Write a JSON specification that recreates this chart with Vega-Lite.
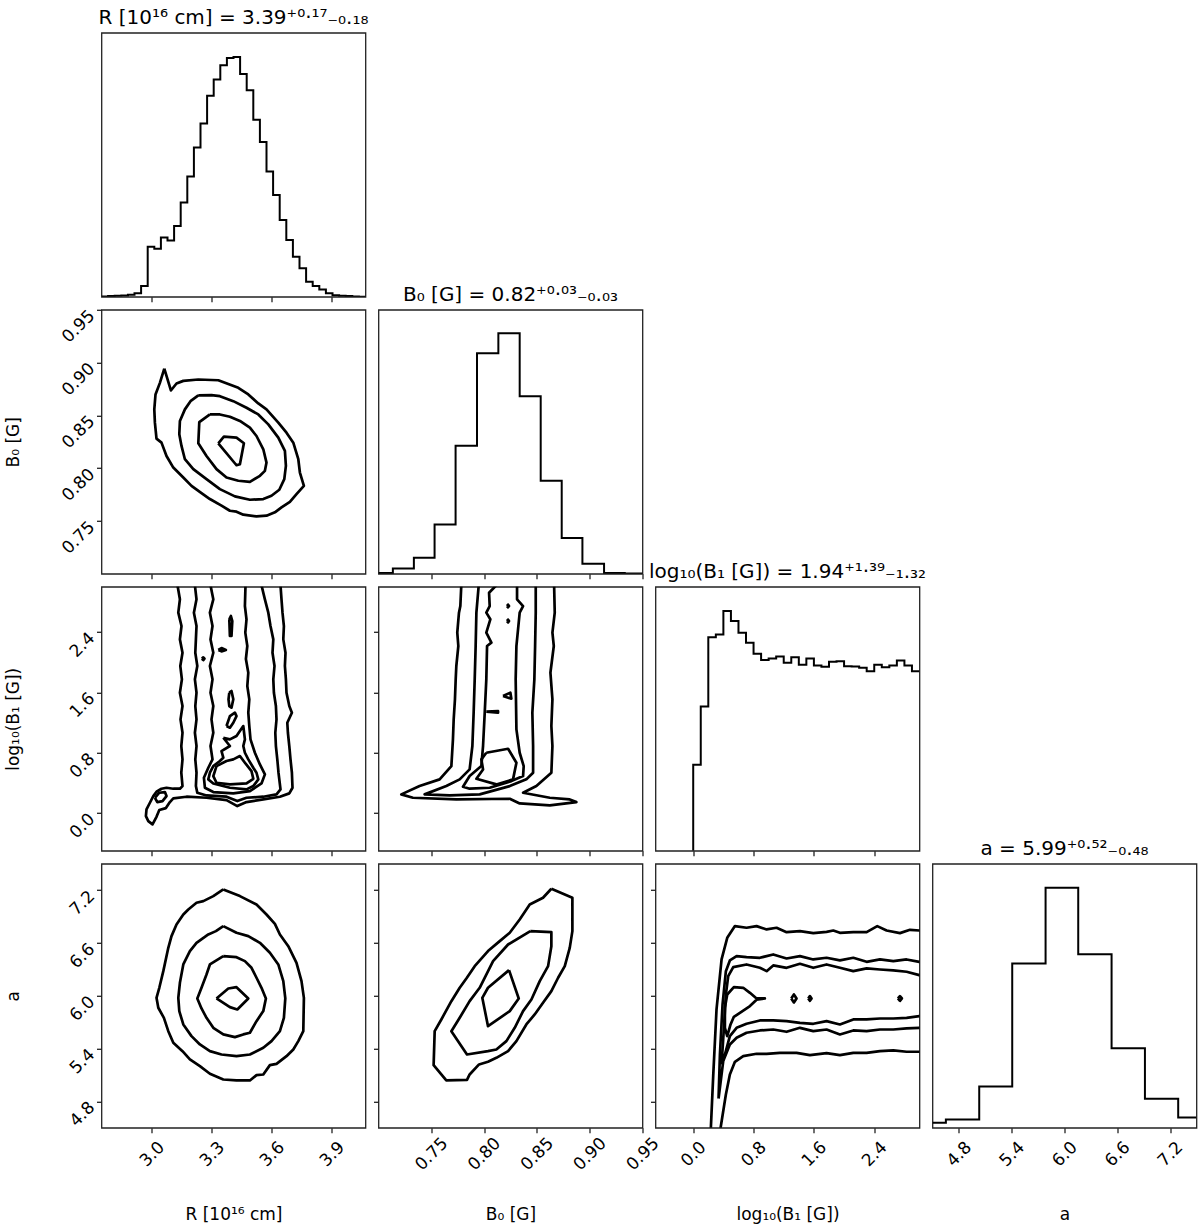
{
"$schema": "https://vega.github.io/schema/vega-lite/v6.json",
"padding": {"left": 3.5, "top": 6.8, "right": 5, "bottom": 5},
"columns": 4,
"spacing": 13,
"bounds": "flush",
"config": {
 "font": "DejaVu Sans",
 "view": {"stroke": "#222", "strokeWidth": 1.3},
 "axis": {"grid": false, "domain": false, "ticks": true, "tickColor": "#222", "tickWidth": 1.3, "tickSize": 5, "labelFont": "DejaVu Sans", "labelFontSize": 17, "labelColor": "#000", "titleFont": "DejaVu Sans", "titleFontSize": 17, "titleFontWeight": "normal", "titleColor": "#000", "labelFlush": false, "labelOverlap": false},
 "title": {"font": "DejaVu Sans", "fontSize": 20, "fontWeight": "normal", "color": "#000", "offset": 4.5, "baseline": "alphabetic", "frame": "group", "anchor": "middle"}
},
"datasets": {
 "histR": [{"x":2.748,"h":0.001},{"x":2.781,"h":0.003},{"x":2.814,"h":0.004},{"x":2.847,"h":0.005},{"x":2.880,"h":0.008},{"x":2.913,"h":0.013},{"x":2.946,"h":0.041},{"x":2.979,"h":0.190},{"x":3.012,"h":0.182},{"x":3.045,"h":0.225},{"x":3.078,"h":0.213},{"x":3.111,"h":0.268},{"x":3.144,"h":0.357},{"x":3.177,"h":0.456},{"x":3.210,"h":0.566},{"x":3.243,"h":0.656},{"x":3.276,"h":0.762},{"x":3.309,"h":0.823},{"x":3.342,"h":0.877},{"x":3.375,"h":0.905},{"x":3.408,"h":0.908},{"x":3.441,"h":0.844},{"x":3.474,"h":0.782},{"x":3.507,"h":0.671},{"x":3.540,"h":0.586},{"x":3.573,"h":0.475},{"x":3.606,"h":0.386},{"x":3.639,"h":0.291},{"x":3.672,"h":0.215},{"x":3.705,"h":0.152},{"x":3.738,"h":0.108},{"x":3.771,"h":0.057},{"x":3.804,"h":0.041},{"x":3.837,"h":0.028},{"x":3.870,"h":0.013},{"x":3.903,"h":0.006},{"x":3.936,"h":0.004},{"x":3.969,"h":0.003},{"x":4.002,"h":0.001},{"x":4.035,"h":0.0},{"x":4.068,"h":0.0}],
 "histB0": [{"x":0.70,"h":0.003},{"x":0.7136,"h":0.020},{"x":0.7335,"h":0.061},{"x":0.7531,"h":0.187},{"x":0.7730,"h":0.485},{"x":0.7933,"h":0.835},{"x":0.8135,"h":0.911},{"x":0.8337,"h":0.673},{"x":0.8536,"h":0.352},{"x":0.8735,"h":0.136},{"x":0.8931,"h":0.038},{"x":0.9136,"h":0.003},{"x":0.9332,"h":0.001},{"x":0.95,"h":0.001}],
 "histL": [{"x":0.0,"h":0.0},{"x":0.0,"h":0.326},{"x":0.1,"h":0.547},{"x":0.2,"h":0.809},{"x":0.3,"h":0.819},{"x":0.4,"h":0.908},{"x":0.5,"h":0.870},{"x":0.6,"h":0.826},{"x":0.7,"h":0.788},{"x":0.8,"h":0.746},{"x":0.9,"h":0.723},{"x":1.0,"h":0.728},{"x":1.1,"h":0.736},{"x":1.2,"h":0.712},{"x":1.3,"h":0.733},{"x":1.4,"h":0.705},{"x":1.5,"h":0.728},{"x":1.6,"h":0.702},{"x":1.7,"h":0.697},{"x":1.8,"h":0.716},{"x":1.9,"h":0.718},{"x":2.0,"h":0.699},{"x":2.1,"h":0.698},{"x":2.2,"h":0.693},{"x":2.3,"h":0.680},{"x":2.4,"h":0.705},{"x":2.5,"h":0.695},{"x":2.6,"h":0.702},{"x":2.7,"h":0.721},{"x":2.8,"h":0.702},{"x":2.9,"h":0.680},{"x":3.0,"h":0.680}],
 "histA": [{"x":4.5,"h":0.019},{"x":4.652,"h":0.031},{"x":5.031,"h":0.156},{"x":5.406,"h":0.622},{"x":5.785,"h":0.909},{"x":6.156,"h":0.657},{"x":6.535,"h":0.301},{"x":6.914,"h":0.110},{"x":7.292,"h":0.039},{"x":7.5,"h":0.039}],
 "rb": [
  {"c":"A","x":3.062,"y":0.8943},{"c":"A","x":3.095,"y":0.8736},{"c":"A","x":3.123,"y":0.8802},{"c":"A","x":3.157,"y":0.8827},{"c":"A","x":3.232,"y":0.884},{"c":"A","x":3.332,"y":0.8833},{"c":"A","x":3.432,"y":0.8761},{"c":"A","x":3.482,"y":0.8698},{"c":"A","x":3.532,"y":0.8613},{"c":"A","x":3.573,"y":0.8557},{"c":"A","x":3.632,"y":0.8431},{"c":"A","x":3.673,"y":0.8336},{"c":"A","x":3.707,"y":0.8242},{"c":"A","x":3.732,"y":0.8085},{"c":"A","x":3.74,"y":0.7959},{"c":"A","x":3.76,"y":0.7833},{"c":"A","x":3.723,"y":0.7755},{"c":"A","x":3.69,"y":0.7682},{"c":"A","x":3.648,"y":0.7629},{"c":"A","x":3.615,"y":0.7582},{"c":"A","x":3.573,"y":0.755},{"c":"A","x":3.523,"y":0.7544},{"c":"A","x":3.457,"y":0.756},{"c":"A","x":3.423,"y":0.7588},{"c":"A","x":3.39,"y":0.7597},{"c":"A","x":3.348,"y":0.7645},{"c":"A","x":3.29,"y":0.7708},{"c":"A","x":3.248,"y":0.7764},{"c":"A","x":3.198,"y":0.7833},{"c":"A","x":3.157,"y":0.7912},{"c":"A","x":3.107,"y":0.8006},{"c":"A","x":3.073,"y":0.8116},{"c":"A","x":3.048,"y":0.8242},{"c":"A","x":3.023,"y":0.828},{"c":"A","x":3.015,"y":0.8431},{"c":"A","x":3.012,"y":0.8557},{"c":"A","x":3.018,"y":0.8698},{"c":"A","x":3.04,"y":0.8808},{"c":"A","x":3.062,"y":0.8943},
  {"c":"B","x":3.232,"y":0.8689},{"c":"B","x":3.298,"y":0.8692},{"c":"B","x":3.34,"y":0.8682},{"c":"B","x":3.407,"y":0.8635},{"c":"B","x":3.473,"y":0.8572},{"c":"B","x":3.532,"y":0.8509},{"c":"B","x":3.582,"y":0.8415},{"c":"B","x":3.632,"y":0.8289},{"c":"B","x":3.665,"y":0.8164},{"c":"B","x":3.67,"y":0.8022},{"c":"B","x":3.662,"y":0.7896},{"c":"B","x":3.637,"y":0.7796},{"c":"B","x":3.598,"y":0.7739},{"c":"B","x":3.557,"y":0.7708},{"c":"B","x":3.49,"y":0.7701},{"c":"B","x":3.415,"y":0.7733},{"c":"B","x":3.34,"y":0.7802},{"c":"B","x":3.273,"y":0.7896},{"c":"B","x":3.207,"y":0.7991},{"c":"B","x":3.165,"y":0.8085},{"c":"B","x":3.148,"y":0.8211},{"c":"B","x":3.137,"y":0.8321},{"c":"B","x":3.14,"y":0.8447},{"c":"B","x":3.165,"y":0.8557},{"c":"B","x":3.193,"y":0.8635},{"c":"B","x":3.232,"y":0.8689},
  {"c":"C","x":3.29,"y":0.8509},{"c":"C","x":3.34,"y":0.8509},{"c":"C","x":3.39,"y":0.8487},{"c":"C","x":3.44,"y":0.8447},{"c":"C","x":3.49,"y":0.8384},{"c":"C","x":3.523,"y":0.8305},{"c":"C","x":3.557,"y":0.8179},{"c":"C","x":3.573,"y":0.8053},{"c":"C","x":3.565,"y":0.7975},{"c":"C","x":3.54,"y":0.7928},{"c":"C","x":3.49,"y":0.7871},{"c":"C","x":3.432,"y":0.7881},{"c":"C","x":3.373,"y":0.7912},{"c":"C","x":3.323,"y":0.7991},{"c":"C","x":3.273,"y":0.8116},{"c":"C","x":3.232,"y":0.8236},{"c":"C","x":3.237,"y":0.8437},{"c":"C","x":3.29,"y":0.8509},
  {"c":"D","x":3.332,"y":0.8236},{"c":"D","x":3.36,"y":0.8299},{"c":"D","x":3.423,"y":0.8289},{"c":"D","x":3.46,"y":0.8236},{"c":"D","x":3.44,"y":0.8038},{"c":"D","x":3.423,"y":0.8028},{"c":"D","x":3.332,"y":0.8236}
 ],
 "rl": [
  {"c":"A","x":3.128,"y":3.02},{"c":"A","x":3.140,"y":2.834},{"c":"A","x":3.132,"y":2.657},{"c":"A","x":3.148,"y":2.480},{"c":"A","x":3.140,"y":2.303},{"c":"A","x":3.153,"y":2.126},{"c":"A","x":3.142,"y":1.950},{"c":"A","x":3.150,"y":1.773},{"c":"A","x":3.140,"y":1.596},{"c":"A","x":3.153,"y":1.419},{"c":"A","x":3.143,"y":1.242},{"c":"A","x":3.153,"y":1.065},{"c":"A","x":3.147,"y":0.889},{"c":"A","x":3.153,"y":0.712},{"c":"A","x":3.147,"y":0.535},{"c":"A","x":3.153,"y":0.358},{"c":"A","x":3.140,"y":0.323},{"c":"A","x":3.107,"y":0.323},{"c":"A","x":3.073,"y":0.336},{"c":"A","x":3.048,"y":0.323},{"c":"A","x":3.023,"y":0.283},{"c":"A","x":3.007,"y":0.225},{"c":"A","x":2.990,"y":0.137},{"c":"A","x":2.973,"y":0.049},{"c":"A","x":2.970,"y":-0.040},{"c":"A","x":2.982,"y":-0.106},{"c":"A","x":3.003,"y":-0.150},{"c":"A","x":3.023,"y":-0.049},{"c":"A","x":3.037,"y":0.040},{"c":"A","x":3.070,"y":0.066},{"c":"A","x":3.090,"y":0.146},{"c":"A","x":3.107,"y":0.195},{"c":"A","x":3.173,"y":0.217},{"c":"A","x":3.273,"y":0.203},{"c":"A","x":3.373,"y":0.172},{"c":"A","x":3.427,"y":0.093},{"c":"A","x":3.473,"y":0.146},{"c":"A","x":3.557,"y":0.181},{"c":"A","x":3.640,"y":0.217},{"c":"A","x":3.687,"y":0.261},{"c":"A","x":3.703,"y":0.336},{"c":"A","x":3.700,"y":0.535},{"c":"A","x":3.693,"y":0.712},{"c":"A","x":3.687,"y":0.889},{"c":"A","x":3.680,"y":1.065},{"c":"A","x":3.677,"y":1.198},{"c":"A","x":3.700,"y":1.331},{"c":"A","x":3.687,"y":1.419},{"c":"A","x":3.673,"y":1.596},{"c":"A","x":3.670,"y":1.773},{"c":"A","x":3.665,"y":1.950},{"c":"A","x":3.668,"y":2.126},{"c":"A","x":3.657,"y":2.303},{"c":"A","x":3.660,"y":2.480},{"c":"A","x":3.653,"y":2.657},{"c":"A","x":3.648,"y":2.834},{"c":"A","x":3.643,"y":3.02},
  {"c":"A2","x":3.015,"y":0.203},{"c":"A2","x":3.037,"y":0.270},{"c":"A2","x":3.065,"y":0.279},{"c":"A2","x":3.073,"y":0.225},{"c":"A2","x":3.053,"y":0.159},{"c":"A2","x":3.027,"y":0.146},{"c":"A2","x":3.015,"y":0.203},
  {"c":"B","x":3.215,"y":3.02},{"c":"B","x":3.223,"y":2.834},{"c":"B","x":3.210,"y":2.657},{"c":"B","x":3.223,"y":2.480},{"c":"B","x":3.220,"y":2.303},{"c":"B","x":3.217,"y":2.126},{"c":"B","x":3.227,"y":1.950},{"c":"B","x":3.215,"y":1.773},{"c":"B","x":3.223,"y":1.596},{"c":"B","x":3.217,"y":1.419},{"c":"B","x":3.223,"y":1.242},{"c":"B","x":3.215,"y":1.065},{"c":"B","x":3.223,"y":0.889},{"c":"B","x":3.217,"y":0.712},{"c":"B","x":3.223,"y":0.535},{"c":"B","x":3.220,"y":0.358},{"c":"B","x":3.227,"y":0.270},{"c":"B","x":3.273,"y":0.234},{"c":"B","x":3.373,"y":0.217},{"c":"B","x":3.427,"y":0.159},{"c":"B","x":3.473,"y":0.203},{"c":"B","x":3.557,"y":0.217},{"c":"B","x":3.623,"y":0.248},{"c":"B","x":3.643,"y":0.314},{"c":"B","x":3.633,"y":0.535},{"c":"B","x":3.627,"y":0.712},{"c":"B","x":3.620,"y":0.889},{"c":"B","x":3.617,"y":1.065},{"c":"B","x":3.623,"y":1.242},{"c":"B","x":3.620,"y":1.419},{"c":"B","x":3.610,"y":1.596},{"c":"B","x":3.607,"y":1.773},{"c":"B","x":3.613,"y":1.950},{"c":"B","x":3.603,"y":2.126},{"c":"B","x":3.607,"y":2.303},{"c":"B","x":3.593,"y":2.480},{"c":"B","x":3.582,"y":2.657},{"c":"B","x":3.565,"y":2.834},{"c":"B","x":3.548,"y":3.02},
  {"c":"C","x":3.293,"y":3.02},{"c":"C","x":3.307,"y":2.834},{"c":"C","x":3.290,"y":2.657},{"c":"C","x":3.303,"y":2.480},{"c":"C","x":3.293,"y":2.303},{"c":"C","x":3.307,"y":2.126},{"c":"C","x":3.290,"y":1.950},{"c":"C","x":3.303,"y":1.773},{"c":"C","x":3.293,"y":1.596},{"c":"C","x":3.307,"y":1.419},{"c":"C","x":3.298,"y":1.242},{"c":"C","x":3.307,"y":1.065},{"c":"C","x":3.293,"y":0.889},{"c":"C","x":3.303,"y":0.712},{"c":"C","x":3.282,"y":0.601},{"c":"C","x":3.260,"y":0.469},{"c":"C","x":3.265,"y":0.336},{"c":"C","x":3.307,"y":0.279},{"c":"C","x":3.407,"y":0.261},{"c":"C","x":3.490,"y":0.292},{"c":"C","x":3.548,"y":0.393},{"c":"C","x":3.565,"y":0.513},{"c":"C","x":3.540,"y":0.645},{"c":"C","x":3.515,"y":0.800},{"c":"C","x":3.493,"y":0.977},{"c":"C","x":3.487,"y":1.154},{"c":"C","x":3.482,"y":1.331},{"c":"C","x":3.487,"y":1.508},{"c":"C","x":3.477,"y":1.684},{"c":"C","x":3.482,"y":1.861},{"c":"C","x":3.470,"y":2.043},{"c":"C","x":3.477,"y":2.215},{"c":"C","x":3.467,"y":2.392},{"c":"C","x":3.473,"y":2.569},{"c":"C","x":3.465,"y":2.745},{"c":"C","x":3.468,"y":3.02},
  {"c":"D","x":3.357,"y":0.999},{"c":"D","x":3.390,"y":0.889},{"c":"D","x":3.348,"y":0.822},{"c":"D","x":3.357,"y":0.734},{"c":"D","x":3.340,"y":0.690},{"c":"D","x":3.307,"y":0.623},{"c":"D","x":3.290,"y":0.535},{"c":"D","x":3.282,"y":0.447},{"c":"D","x":3.307,"y":0.393},{"c":"D","x":3.390,"y":0.336},{"c":"D","x":3.473,"y":0.314},{"c":"D","x":3.507,"y":0.358},{"c":"D","x":3.532,"y":0.447},{"c":"D","x":3.523,"y":0.535},{"c":"D","x":3.507,"y":0.601},{"c":"D","x":3.482,"y":0.712},{"c":"D","x":3.465,"y":0.800},{"c":"D","x":3.457,"y":0.889},{"c":"D","x":3.465,"y":0.977},{"c":"D","x":3.457,"y":1.154},{"c":"D","x":3.423,"y":1.021},{"c":"D","x":3.390,"y":0.977},{"c":"D","x":3.357,"y":0.999},
  {"c":"E","x":3.323,"y":0.623},{"c":"E","x":3.373,"y":0.690},{"c":"E","x":3.407,"y":0.712},{"c":"E","x":3.440,"y":0.756},{"c":"E","x":3.465,"y":0.668},{"c":"E","x":3.498,"y":0.557},{"c":"E","x":3.507,"y":0.455},{"c":"E","x":3.473,"y":0.393},{"c":"E","x":3.390,"y":0.380},{"c":"E","x":3.323,"y":0.402},{"c":"E","x":3.307,"y":0.491},{"c":"E","x":3.323,"y":0.623},
  {"c":"I1","x":3.387,"y":2.569},{"c":"I1","x":3.395,"y":2.613},{"c":"I1","x":3.402,"y":2.546},{"c":"I1","x":3.398,"y":2.348},{"c":"I1","x":3.390,"y":2.348},{"c":"I1","x":3.387,"y":2.569},
  {"c":"I2","x":3.332,"y":2.162},{"c":"I2","x":3.348,"y":2.188},{"c":"I2","x":3.370,"y":2.162},{"c":"I2","x":3.348,"y":2.144},{"c":"I2","x":3.332,"y":2.162},
  {"c":"I3","x":3.250,"y":2.047},{"c":"I3","x":3.257,"y":2.065},{"c":"I3","x":3.263,"y":2.047},{"c":"I3","x":3.257,"y":2.029},{"c":"I3","x":3.250,"y":2.047},
  {"c":"I4","x":3.387,"y":1.596},{"c":"I4","x":3.398,"y":1.618},{"c":"I4","x":3.407,"y":1.508},{"c":"I4","x":3.398,"y":1.397},{"c":"I4","x":3.387,"y":1.419},{"c":"I4","x":3.383,"y":1.508},{"c":"I4","x":3.387,"y":1.596},
  {"c":"I5","x":3.373,"y":1.154},{"c":"I5","x":3.390,"y":1.286},{"c":"I5","x":3.415,"y":1.331},{"c":"I5","x":3.423,"y":1.286},{"c":"I5","x":3.407,"y":1.198},{"c":"I5","x":3.390,"y":1.132},{"c":"I5","x":3.373,"y":1.154}
 ],
 "bl": [
  {"c":"A","x":0.7784,"y":3.02},{"c":"A","x":0.7775,"y":2.745},{"c":"A","x":0.7762,"y":2.657},{"c":"A","x":0.7746,"y":2.392},{"c":"A","x":0.7756,"y":2.215},{"c":"A","x":0.7737,"y":1.950},{"c":"A","x":0.7731,"y":1.773},{"c":"A","x":0.7724,"y":1.508},{"c":"A","x":0.7712,"y":1.242},{"c":"A","x":0.7705,"y":0.977},{"c":"A","x":0.7690,"y":0.623},{"c":"A","x":0.7579,"y":0.447},{"c":"A","x":0.7389,"y":0.358},{"c":"A","x":0.7216,"y":0.248},{"c":"A","x":0.7326,"y":0.203},{"c":"A","x":0.7737,"y":0.181},{"c":"A","x":0.8243,"y":0.190},{"c":"A","x":0.8337,"y":0.128},{"c":"A","x":0.8622,"y":0.102},{"c":"A","x":0.8874,"y":0.146},{"c":"A","x":0.8811,"y":0.181},{"c":"A","x":0.8622,"y":0.203},{"c":"A","x":0.8369,"y":0.270},{"c":"A","x":0.8495,"y":0.358},{"c":"A","x":0.8637,"y":0.535},{"c":"A","x":0.8647,"y":0.889},{"c":"A","x":0.8637,"y":1.154},{"c":"A","x":0.8647,"y":1.508},{"c":"A","x":0.8628,"y":1.861},{"c":"A","x":0.8660,"y":2.215},{"c":"A","x":0.8647,"y":2.392},{"c":"A","x":0.8669,"y":2.657},{"c":"A","x":0.8663,"y":3.02},
  {"c":"B","x":0.7949,"y":3.02},{"c":"B","x":0.7927,"y":2.657},{"c":"B","x":0.7920,"y":2.215},{"c":"B","x":0.7911,"y":1.773},{"c":"B","x":0.7901,"y":1.331},{"c":"B","x":0.7889,"y":0.889},{"c":"B","x":0.7863,"y":0.579},{"c":"B","x":0.7769,"y":0.447},{"c":"B","x":0.7642,"y":0.358},{"c":"B","x":0.7437,"y":0.248},{"c":"B","x":0.7674,"y":0.234},{"c":"B","x":0.7958,"y":0.248},{"c":"B","x":0.8243,"y":0.358},{"c":"B","x":0.8400,"y":0.447},{"c":"B","x":0.8464,"y":0.535},{"c":"B","x":0.8464,"y":0.889},{"c":"B","x":0.8457,"y":1.331},{"c":"B","x":0.8476,"y":1.773},{"c":"B","x":0.8483,"y":2.215},{"c":"B","x":0.8489,"y":2.657},{"c":"B","x":0.8489,"y":3.02},
  {"c":"C","x":0.8116,"y":3.02},{"c":"C","x":0.8047,"y":2.922},{"c":"C","x":0.8053,"y":2.745},{"c":"C","x":0.8021,"y":2.657},{"c":"C","x":0.8059,"y":2.569},{"c":"C","x":0.8021,"y":2.392},{"c":"C","x":0.8069,"y":2.259},{"c":"C","x":0.8028,"y":2.215},{"c":"C","x":0.8021,"y":1.773},{"c":"C","x":0.8006,"y":1.331},{"c":"C","x":0.7990,"y":0.889},{"c":"C","x":0.7974,"y":0.623},{"c":"C","x":0.7863,"y":0.491},{"c":"C","x":0.7800,"y":0.349},{"c":"C","x":0.7863,"y":0.323},{"c":"C","x":0.8053,"y":0.336},{"c":"C","x":0.8258,"y":0.424},{"c":"C","x":0.8369,"y":0.491},{"c":"C","x":0.8375,"y":0.623},{"c":"C","x":0.8337,"y":0.800},{"c":"C","x":0.8306,"y":1.110},{"c":"C","x":0.8299,"y":1.773},{"c":"C","x":0.8306,"y":2.215},{"c":"C","x":0.8337,"y":2.657},{"c":"C","x":0.8369,"y":2.745},{"c":"C","x":0.8312,"y":2.834},{"c":"C","x":0.8312,"y":3.02},
  {"c":"D","x":0.8021,"y":0.800},{"c":"D","x":0.8227,"y":0.853},{"c":"D","x":0.8306,"y":0.668},{"c":"D","x":0.8274,"y":0.447},{"c":"D","x":0.8116,"y":0.380},{"c":"D","x":0.7927,"y":0.455},{"c":"D","x":0.7990,"y":0.579},{"c":"D","x":0.7974,"y":0.712},{"c":"D","x":0.8021,"y":0.800},
  {"c":"I1","x":0.8217,"y":2.745},{"c":"I1","x":0.8227,"y":2.763},{"c":"I1","x":0.8236,"y":2.745},{"c":"I1","x":0.8227,"y":2.728},{"c":"I1","x":0.8217,"y":2.745},
  {"c":"I2","x":0.8217,"y":2.546},{"c":"I2","x":0.8227,"y":2.564},{"c":"I2","x":0.8236,"y":2.546},{"c":"I2","x":0.8227,"y":2.529},{"c":"I2","x":0.8217,"y":2.546},
  {"c":"I3","x":0.8179,"y":1.552},{"c":"I3","x":0.8249,"y":1.596},{"c":"I3","x":0.8258,"y":1.516},{"c":"I3","x":0.8179,"y":1.552},
  {"c":"I4","x":0.8021,"y":1.344},{"c":"I4","x":0.8132,"y":1.353},{"c":"I4","x":0.8132,"y":1.331},{"c":"I4","x":0.8021,"y":1.344}
 ],
 "ra": [
  {"c":"A","x":3.357,"y":7.208},{"c":"A","x":3.440,"y":7.133},{"c":"A","x":3.523,"y":7.038},{"c":"A","x":3.573,"y":6.924},{"c":"A","x":3.615,"y":6.818},{"c":"A","x":3.640,"y":6.697},{"c":"A","x":3.682,"y":6.564},{"c":"A","x":3.723,"y":6.375},{"c":"A","x":3.748,"y":6.167},{"c":"A","x":3.760,"y":5.977},{"c":"A","x":3.757,"y":5.598},{"c":"A","x":3.732,"y":5.485},{"c":"A","x":3.707,"y":5.390},{"c":"A","x":3.673,"y":5.314},{"c":"A","x":3.623,"y":5.227},{"c":"A","x":3.590,"y":5.212},{"c":"A","x":3.557,"y":5.106},{"c":"A","x":3.523,"y":5.098},{"c":"A","x":3.490,"y":5.038},{"c":"A","x":3.423,"y":5.038},{"c":"A","x":3.357,"y":5.049},{"c":"A","x":3.290,"y":5.114},{"c":"A","x":3.240,"y":5.201},{"c":"A","x":3.190,"y":5.277},{"c":"A","x":3.153,"y":5.371},{"c":"A","x":3.107,"y":5.466},{"c":"A","x":3.082,"y":5.598},{"c":"A","x":3.060,"y":5.750},{"c":"A","x":3.032,"y":5.864},{"c":"A","x":3.023,"y":5.977},{"c":"A","x":3.037,"y":6.091},{"c":"A","x":3.057,"y":6.280},{"c":"A","x":3.082,"y":6.545},{"c":"A","x":3.098,"y":6.678},{"c":"A","x":3.123,"y":6.811},{"c":"A","x":3.157,"y":6.924},{"c":"A","x":3.182,"y":6.981},{"c":"A","x":3.223,"y":7.057},{"c":"A","x":3.257,"y":7.076},{"c":"A","x":3.307,"y":7.133},{"c":"A","x":3.357,"y":7.208},
  {"c":"B","x":3.357,"y":6.792},{"c":"B","x":3.423,"y":6.716},{"c":"B","x":3.482,"y":6.678},{"c":"B","x":3.540,"y":6.602},{"c":"B","x":3.590,"y":6.489},{"c":"B","x":3.632,"y":6.356},{"c":"B","x":3.657,"y":6.167},{"c":"B","x":3.667,"y":5.970},{"c":"B","x":3.660,"y":5.750},{"c":"B","x":3.640,"y":5.598},{"c":"B","x":3.598,"y":5.485},{"c":"B","x":3.557,"y":5.409},{"c":"B","x":3.490,"y":5.333},{"c":"B","x":3.423,"y":5.314},{"c":"B","x":3.348,"y":5.333},{"c":"B","x":3.290,"y":5.371},{"c":"B","x":3.240,"y":5.447},{"c":"B","x":3.198,"y":5.542},{"c":"B","x":3.157,"y":5.674},{"c":"B","x":3.137,"y":5.826},{"c":"B","x":3.132,"y":5.977},{"c":"B","x":3.140,"y":6.148},{"c":"B","x":3.157,"y":6.356},{"c":"B","x":3.190,"y":6.508},{"c":"B","x":3.223,"y":6.602},{"c":"B","x":3.282,"y":6.697},{"c":"B","x":3.320,"y":6.735},{"c":"B","x":3.357,"y":6.792},
  {"c":"C","x":3.357,"y":6.451},{"c":"C","x":3.423,"y":6.439},{"c":"C","x":3.465,"y":6.394},{"c":"C","x":3.498,"y":6.318},{"c":"C","x":3.523,"y":6.205},{"c":"C","x":3.548,"y":6.091},{"c":"C","x":3.570,"y":5.970},{"c":"C","x":3.557,"y":5.826},{"c":"C","x":3.523,"y":5.712},{"c":"C","x":3.490,"y":5.580},{"c":"C","x":3.457,"y":5.561},{"c":"C","x":3.415,"y":5.530},{"c":"C","x":3.357,"y":5.561},{"c":"C","x":3.307,"y":5.636},{"c":"C","x":3.273,"y":5.750},{"c":"C","x":3.248,"y":5.856},{"c":"C","x":3.227,"y":5.970},{"c":"C","x":3.248,"y":6.091},{"c":"C","x":3.273,"y":6.242},{"c":"C","x":3.290,"y":6.356},{"c":"C","x":3.357,"y":6.451},
  {"c":"D","x":3.323,"y":5.970},{"c":"D","x":3.382,"y":6.083},{"c":"D","x":3.423,"y":6.098},{"c":"D","x":3.482,"y":5.970},{"c":"D","x":3.427,"y":5.845},{"c":"D","x":3.390,"y":5.871},{"c":"D","x":3.323,"y":5.970}
 ],
 "ba": [
  {"c":"A","x":0.8637,"y":7.216},{"c":"A","x":0.8836,"y":7.114},{"c":"A","x":0.8836,"y":6.735},{"c":"A","x":0.8811,"y":6.545},{"c":"A","x":0.8764,"y":6.337},{"c":"A","x":0.8701,"y":6.205},{"c":"A","x":0.8637,"y":6.053},{"c":"A","x":0.8558,"y":5.920},{"c":"A","x":0.8479,"y":5.788},{"c":"A","x":0.8400,"y":5.674},{"c":"A","x":0.8306,"y":5.485},{"c":"A","x":0.8227,"y":5.371},{"c":"A","x":0.8116,"y":5.295},{"c":"A","x":0.8037,"y":5.250},{"c":"A","x":0.7952,"y":5.220},{"c":"A","x":0.7863,"y":5.106},{"c":"A","x":0.7838,"y":5.045},{"c":"A","x":0.7642,"y":5.038},{"c":"A","x":0.7522,"y":5.212},{"c":"A","x":0.7532,"y":5.598},{"c":"A","x":0.7595,"y":5.731},{"c":"A","x":0.7690,"y":5.939},{"c":"A","x":0.7769,"y":6.091},{"c":"A","x":0.7832,"y":6.197},{"c":"A","x":0.7911,"y":6.337},{"c":"A","x":0.8037,"y":6.508},{"c":"A","x":0.8148,"y":6.621},{"c":"A","x":0.8243,"y":6.716},{"c":"A","x":0.8337,"y":6.867},{"c":"A","x":0.8432,"y":7.038},{"c":"A","x":0.8558,"y":7.114},{"c":"A","x":0.8637,"y":7.216},
  {"c":"B","x":0.8438,"y":6.735},{"c":"B","x":0.8637,"y":6.723},{"c":"B","x":0.8637,"y":6.564},{"c":"B","x":0.8606,"y":6.337},{"c":"B","x":0.8527,"y":6.167},{"c":"B","x":0.8448,"y":5.958},{"c":"B","x":0.8369,"y":5.826},{"c":"B","x":0.8290,"y":5.636},{"c":"B","x":0.8211,"y":5.485},{"c":"B","x":0.8116,"y":5.390},{"c":"B","x":0.8037,"y":5.371},{"c":"B","x":0.7838,"y":5.333},{"c":"B","x":0.7690,"y":5.598},{"c":"B","x":0.7769,"y":5.750},{"c":"B","x":0.7863,"y":5.939},{"c":"B","x":0.7958,"y":6.091},{"c":"B","x":0.8085,"y":6.394},{"c":"B","x":0.8227,"y":6.583},{"c":"B","x":0.8438,"y":6.735},
  {"c":"C","x":0.8236,"y":6.292},{"c":"C","x":0.8328,"y":5.970},{"c":"C","x":0.8243,"y":5.826},{"c":"C","x":0.8037,"y":5.655},{"c":"C","x":0.7983,"y":5.977},{"c":"C","x":0.8037,"y":6.091},{"c":"C","x":0.8236,"y":6.292}
 ],
 "la": [
  {"c":"A","x":0.199,"y":4.348},{"c":"A","x":0.234,"y":4.500},{"c":"A","x":0.265,"y":5.087},{"c":"A","x":0.309,"y":5.845},{"c":"A","x":0.376,"y":6.413},{"c":"A","x":0.451,"y":6.659},{"c":"A","x":0.553,"y":6.792},{"c":"A","x":0.707,"y":6.773},{"c":"A","x":0.840,"y":6.792},{"c":"A","x":0.973,"y":6.754},{"c":"A","x":1.105,"y":6.773},{"c":"A","x":1.238,"y":6.723},{"c":"A","x":1.415,"y":6.735},{"c":"A","x":1.592,"y":6.712},{"c":"A","x":1.768,"y":6.727},{"c":"A","x":1.857,"y":6.742},{"c":"A","x":1.945,"y":6.716},{"c":"A","x":2.122,"y":6.723},{"c":"A","x":2.299,"y":6.723},{"c":"A","x":2.440,"y":6.792},{"c":"A","x":2.564,"y":6.742},{"c":"A","x":2.741,"y":6.712},{"c":"A","x":2.874,"y":6.750},{"c":"A","x":2.997,"y":6.742},{"c":"A","x":3.095,"y":6.742},{"c":"A","x":3.095,"y":5.364},{"c":"A","x":2.997,"y":5.364},{"c":"A","x":2.829,"y":5.364},{"c":"A","x":2.653,"y":5.379},{"c":"A","x":2.476,"y":5.371},{"c":"A","x":2.299,"y":5.352},{"c":"A","x":2.122,"y":5.352},{"c":"A","x":1.945,"y":5.326},{"c":"A","x":1.768,"y":5.348},{"c":"A","x":1.547,"y":5.326},{"c":"A","x":1.370,"y":5.352},{"c":"A","x":1.149,"y":5.352},{"c":"A","x":0.973,"y":5.341},{"c":"A","x":0.840,"y":5.341},{"c":"A","x":0.663,"y":5.314},{"c":"A","x":0.553,"y":5.250},{"c":"A","x":0.486,"y":5.106},{"c":"A","x":0.433,"y":4.879},{"c":"A","x":0.363,"y":4.500},{"c":"A","x":0.376,"y":4.348},{"c":"A","x":0.199,"y":4.348},
  {"c":"B","x":0.336,"y":4.833},{"c":"B","x":0.354,"y":5.333},{"c":"B","x":0.389,"y":5.902},{"c":"B","x":0.433,"y":6.280},{"c":"B","x":0.486,"y":6.402},{"c":"B","x":0.575,"y":6.451},{"c":"B","x":0.707,"y":6.439},{"c":"B","x":0.884,"y":6.432},{"c":"B","x":1.061,"y":6.470},{"c":"B","x":1.238,"y":6.424},{"c":"B","x":1.415,"y":6.451},{"c":"B","x":1.592,"y":6.413},{"c":"B","x":1.768,"y":6.432},{"c":"B","x":1.945,"y":6.402},{"c":"B","x":2.122,"y":6.432},{"c":"B","x":2.299,"y":6.386},{"c":"B","x":2.476,"y":6.413},{"c":"B","x":2.653,"y":6.394},{"c":"B","x":2.829,"y":6.413},{"c":"B","x":2.997,"y":6.386},{"c":"B","x":3.095,"y":6.386},{"c":"B","x":3.095,"y":5.636},{"c":"B","x":2.997,"y":5.636},{"c":"B","x":2.829,"y":5.629},{"c":"B","x":2.653,"y":5.617},{"c":"B","x":2.476,"y":5.617},{"c":"B","x":2.299,"y":5.598},{"c":"B","x":2.122,"y":5.606},{"c":"B","x":1.945,"y":5.561},{"c":"B","x":1.768,"y":5.617},{"c":"B","x":1.592,"y":5.598},{"c":"B","x":1.415,"y":5.636},{"c":"B","x":1.238,"y":5.591},{"c":"B","x":1.061,"y":5.617},{"c":"B","x":0.884,"y":5.606},{"c":"B","x":0.707,"y":5.580},{"c":"B","x":0.575,"y":5.523},{"c":"B","x":0.486,"y":5.447},{"c":"B","x":0.398,"y":5.258},{"c":"B","x":0.336,"y":4.833},
  {"c":"C","x":0.376,"y":5.220},{"c":"C","x":0.407,"y":5.636},{"c":"C","x":0.433,"y":6.015},{"c":"C","x":0.464,"y":6.223},{"c":"C","x":0.531,"y":6.326},{"c":"C","x":0.707,"y":6.356},{"c":"C","x":0.884,"y":6.318},{"c":"C","x":0.973,"y":6.280},{"c":"C","x":1.061,"y":6.345},{"c":"C","x":1.238,"y":6.318},{"c":"C","x":1.415,"y":6.364},{"c":"C","x":1.592,"y":6.318},{"c":"C","x":1.768,"y":6.356},{"c":"C","x":1.945,"y":6.318},{"c":"C","x":2.122,"y":6.280},{"c":"C","x":2.299,"y":6.311},{"c":"C","x":2.476,"y":6.299},{"c":"C","x":2.653,"y":6.288},{"c":"C","x":2.829,"y":6.273},{"c":"C","x":2.997,"y":6.235},{"c":"C","x":3.095,"y":6.235},{"c":"C","x":3.095,"y":5.769},{"c":"C","x":2.997,"y":5.769},{"c":"C","x":2.829,"y":5.750},{"c":"C","x":2.653,"y":5.742},{"c":"C","x":2.476,"y":5.742},{"c":"C","x":2.299,"y":5.731},{"c":"C","x":2.122,"y":5.731},{"c":"C","x":1.945,"y":5.674},{"c":"C","x":1.768,"y":5.712},{"c":"C","x":1.592,"y":5.682},{"c":"C","x":1.415,"y":5.693},{"c":"C","x":1.238,"y":5.712},{"c":"C","x":1.061,"y":5.720},{"c":"C","x":0.884,"y":5.720},{"c":"C","x":0.707,"y":5.682},{"c":"C","x":0.575,"y":5.636},{"c":"C","x":0.486,"y":5.542},{"c":"C","x":0.420,"y":5.333},{"c":"C","x":0.376,"y":5.220},
  {"c":"D","x":0.451,"y":6.015},{"c":"D","x":0.539,"y":6.098},{"c":"D","x":0.663,"y":6.091},{"c":"D","x":0.752,"y":6.034},{"c":"D","x":0.840,"y":5.970},{"c":"D","x":0.950,"y":5.970},{"c":"D","x":0.840,"y":5.955},{"c":"D","x":0.752,"y":5.883},{"c":"D","x":0.619,"y":5.807},{"c":"D","x":0.539,"y":5.761},{"c":"D","x":0.495,"y":5.674},{"c":"D","x":0.451,"y":5.542},{"c":"D","x":0.420,"y":5.636},{"c":"D","x":0.420,"y":5.864},{"c":"D","x":0.451,"y":6.015},
  {"c":"d1","x":1.300,"y":5.970},{"c":"d1","x":1.335,"y":6.015},{"c":"d1","x":1.370,"y":5.970},{"c":"d1","x":1.335,"y":5.924},{"c":"d1","x":1.300,"y":5.970},
  {"c":"d2","x":1.525,"y":5.970},{"c":"d2","x":1.547,"y":5.996},{"c":"d2","x":1.569,"y":5.970},{"c":"d2","x":1.547,"y":5.943},{"c":"d2","x":1.525,"y":5.970},
  {"c":"d3","x":2.714,"y":5.970},{"c":"d3","x":2.741,"y":5.996},{"c":"d3","x":2.767,"y":5.970},{"c":"d3","x":2.741,"y":5.943},{"c":"d3","x":2.714,"y":5.970}
 ]
},
"concat": [
 {"width":264,"height":264,"data":{"name":"histR"},
  "title":{"text":"R [10¹⁶ cm] = 3.39⁺⁰·¹⁷₋₀.₁₈"},
  "mark":{"type":"line","interpolate":"step-after","color":"#000","strokeWidth":2,"clip":true},
  "encoding":{"x":{"field":"x","type":"quantitative","scale":{"domain":[2.748,4.068],"nice":false,"zero":false},"axis":{"values":[3.0,3.3,3.6,3.9],"labels":false,"title":null}},
   "y":{"field":"h","type":"quantitative","scale":{"domain":[0,1],"nice":false},"axis":null},"order":{"value":null}}},
 {"width":264,"height":264,"data":{"values":[{"x":0}]},"mark":{"type":"point","opacity":0},"view":{"stroke":null}},
 {"width":264,"height":264,"data":{"values":[{"x":0}]},"mark":{"type":"point","opacity":0},"view":{"stroke":null}},
 {"width":264,"height":264,"data":{"values":[{"x":0}]},"mark":{"type":"point","opacity":0},"view":{"stroke":null}},

 {"width":264,"height":264,"data":{"name":"rb"},
  "mark":{"type":"line","color":"#000","strokeWidth":2.7,"clip":true,"strokeJoin":"round"},
  "encoding":{"x":{"field":"x","type":"quantitative","scale":{"domain":[2.748,4.068],"nice":false,"zero":false},"axis":{"values":[3.0,3.3,3.6,3.9],"labels":false,"title":null}},
   "y":{"field":"y","type":"quantitative","scale":{"domain":[0.70,0.95],"nice":false,"zero":false},"axis":{"values":[0.75,0.8,0.85,0.9,0.95],"format":".2f","labelAngle":-45,"labelAlign":"right","labelBaseline":"middle","labelPadding":5,"labelOffset":3,"title":"B₀ [G]","titleX":-79,"titleBaseline":"bottom"}},
   "detail":{"field":"c"},"order":{"value":null}}},
 {"width":264,"height":264,"data":{"name":"histB0"},
  "title":{"text":"B₀ [G] = 0.82⁺⁰·⁰³₋₀.₀₃"},
  "mark":{"type":"line","interpolate":"step-after","color":"#000","strokeWidth":2,"clip":true},
  "encoding":{"x":{"field":"x","type":"quantitative","scale":{"domain":[0.70,0.95],"nice":false,"zero":false},"axis":{"values":[0.75,0.8,0.85,0.9,0.95],"labels":false,"title":null}},
   "y":{"field":"h","type":"quantitative","scale":{"domain":[0,1],"nice":false},"axis":null},"order":{"value":null}}},
 {"width":264,"height":264,"data":{"values":[{"x":0}]},"mark":{"type":"point","opacity":0},"view":{"stroke":null}},
 {"width":264,"height":264,"data":{"values":[{"x":0}]},"mark":{"type":"point","opacity":0},"view":{"stroke":null}},

 {"width":264,"height":264,"data":{"name":"rl"},
  "mark":{"type":"line","color":"#000","strokeWidth":2.7,"clip":true,"strokeJoin":"round"},
  "encoding":{"x":{"field":"x","type":"quantitative","scale":{"domain":[2.748,4.068],"nice":false,"zero":false},"axis":{"values":[3.0,3.3,3.6,3.9],"labels":false,"title":null}},
   "y":{"field":"y","type":"quantitative","scale":{"domain":[-0.5,3.0],"nice":false,"zero":false},"axis":{"values":[0,0.8,1.6,2.4],"format":".1f","labelAngle":-45,"labelAlign":"right","labelBaseline":"middle","labelPadding":5,"labelOffset":3,"title":"log₁₀(B₁ [G])","titleX":-79,"titleBaseline":"bottom"}},
   "detail":{"field":"c"},"order":{"value":null}}},
 {"width":264,"height":264,"data":{"name":"bl"},
  "mark":{"type":"line","color":"#000","strokeWidth":2.7,"clip":true,"strokeJoin":"round"},
  "encoding":{"x":{"field":"x","type":"quantitative","scale":{"domain":[0.70,0.95],"nice":false,"zero":false},"axis":{"values":[0.75,0.8,0.85,0.9,0.95],"labels":false,"title":null}},
   "y":{"field":"y","type":"quantitative","scale":{"domain":[-0.5,3.0],"nice":false,"zero":false},"axis":{"values":[0,0.8,1.6,2.4],"labels":false,"title":null}},
   "detail":{"field":"c"},"order":{"value":null}}},
 {"width":264,"height":264,"data":{"name":"histL"},
  "title":{"text":"log₁₀(B₁ [G]) = 1.94⁺¹·³⁹₋₁.₃₂"},
  "mark":{"type":"line","interpolate":"step-after","color":"#000","strokeWidth":2,"clip":true},
  "encoding":{"x":{"field":"x","type":"quantitative","scale":{"domain":[-0.5,3.0],"nice":false,"zero":false},"axis":{"values":[0,0.8,1.6,2.4],"labels":false,"title":null}},
   "y":{"field":"h","type":"quantitative","scale":{"domain":[0,1],"nice":false},"axis":null},"order":{"value":null}}},
 {"width":264,"height":264,"data":{"values":[{"x":0}]},"mark":{"type":"point","opacity":0},"view":{"stroke":null}},

 {"width":264,"height":264,"data":{"name":"ra"},
  "mark":{"type":"line","color":"#000","strokeWidth":2.7,"clip":true,"strokeJoin":"round"},
  "encoding":{"x":{"field":"x","type":"quantitative","scale":{"domain":[2.748,4.068],"nice":false,"zero":false},"axis":{"values":[3.0,3.3,3.6,3.9],"format":".1f","labelAngle":-45,"labelAlign":"center","labelBaseline":"middle","labelPadding":21,"title":"R [10¹⁶ cm]","titleY":79,"titleBaseline":"top"}},
   "y":{"field":"y","type":"quantitative","scale":{"domain":[4.5,7.5],"nice":false,"zero":false},"axis":{"values":[4.8,5.4,6.0,6.6,7.2],"format":".1f","labelAngle":-45,"labelAlign":"right","labelBaseline":"middle","labelPadding":5,"labelOffset":3,"title":"a","titleX":-79,"titleBaseline":"bottom"}},
   "detail":{"field":"c"},"order":{"value":null}}},
 {"width":264,"height":264,"data":{"name":"ba"},
  "mark":{"type":"line","color":"#000","strokeWidth":2.7,"clip":true,"strokeJoin":"round"},
  "encoding":{"x":{"field":"x","type":"quantitative","scale":{"domain":[0.70,0.95],"nice":false,"zero":false},"axis":{"values":[0.75,0.8,0.85,0.9,0.95],"format":".2f","labelAngle":-45,"labelAlign":"center","labelBaseline":"middle","labelPadding":21,"title":"B₀ [G]","titleY":79,"titleBaseline":"top"}},
   "y":{"field":"y","type":"quantitative","scale":{"domain":[4.5,7.5],"nice":false,"zero":false},"axis":{"values":[4.8,5.4,6.0,6.6,7.2],"labels":false,"title":null}},
   "detail":{"field":"c"},"order":{"value":null}}},
 {"width":264,"height":264,"data":{"name":"la"},
  "mark":{"type":"line","color":"#000","strokeWidth":2.7,"clip":true,"strokeJoin":"round"},
  "encoding":{"x":{"field":"x","type":"quantitative","scale":{"domain":[-0.5,3.0],"nice":false,"zero":false},"axis":{"values":[0,0.8,1.6,2.4],"format":".1f","labelAngle":-45,"labelAlign":"center","labelBaseline":"middle","labelPadding":21,"title":"log₁₀(B₁ [G])","titleY":79,"titleBaseline":"top"}},
   "y":{"field":"y","type":"quantitative","scale":{"domain":[4.5,7.5],"nice":false,"zero":false},"axis":{"values":[4.8,5.4,6.0,6.6,7.2],"labels":false,"title":null}},
   "detail":{"field":"c"},"order":{"value":null}}},
 {"width":264,"height":264,"data":{"name":"histA"},
  "title":{"text":"a = 5.99⁺⁰·⁵²₋₀.₄₈"},
  "mark":{"type":"line","interpolate":"step-after","color":"#000","strokeWidth":2,"clip":true},
  "encoding":{"x":{"field":"x","type":"quantitative","scale":{"domain":[4.5,7.5],"nice":false,"zero":false},"axis":{"values":[4.8,5.4,6.0,6.6,7.2],"format":".1f","labelAngle":-45,"labelAlign":"center","labelBaseline":"middle","labelPadding":21,"title":"a","titleY":79,"titleBaseline":"top"}},
   "y":{"field":"h","type":"quantitative","scale":{"domain":[0,1],"nice":false},"axis":null},"order":{"value":null}}}
]
}
